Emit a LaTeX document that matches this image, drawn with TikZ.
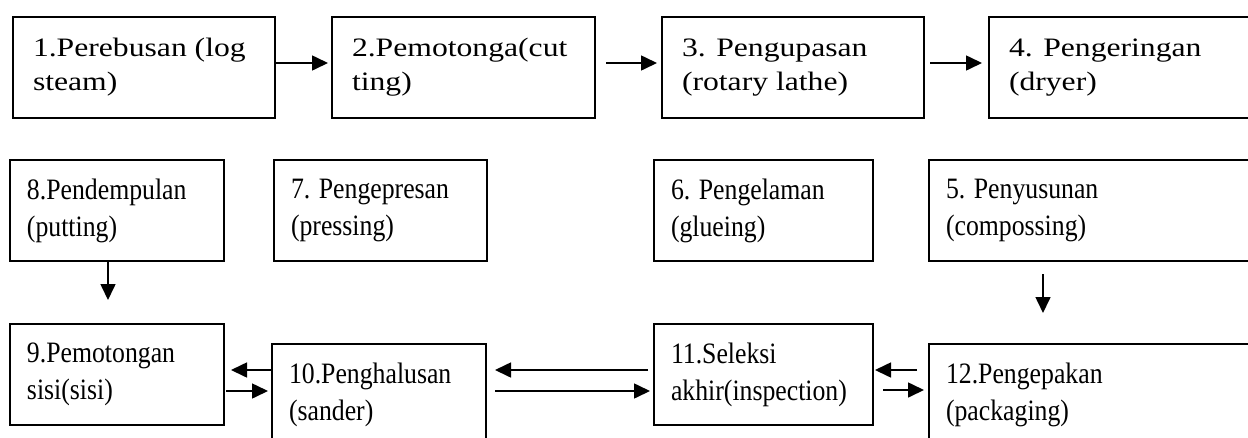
\documentclass[tikz,border=0pt]{standalone}
\usepackage{fontspec}
\setmainfont{Liberation Serif}
\newfontfamily\lebar{Liberation Serif}[FakeStretch=1.19]
\newfontfamily\sempit{Liberation Serif}[FakeStretch=0.87]
\usetikzlibrary{arrows.meta}
\tikzset{
	kotak/.style={
			draw, line width=2pt, anchor=north west, align=flush left,
			inner ysep=0pt, minimum height=101pt
		},
	prosesA/.style={
			kotak, inner xsep=20pt, text width=#1-40pt,
			font=\lebar\fontsize{26.6}{34}\selectfont
		},
	prosesB/.style={
			kotak, inner xsep=17pt, text width=#1-34pt,
			font=\sempit\fontsize{29.6}{37}\selectfont
		},
	panah/.style={
			line width=1.6pt, -{Triangle[length=16pt,width=15pt]}
		}
}

\begin{document}
\begin{tikzpicture}[x=1pt,y=-1pt]
			\useasboundingbox (0,0) rectangle (1248,437);

			\node[prosesA=262pt]	(b1) at (12,16)	{1.Perebusan (log\\steam)};
			\node[prosesA=263pt]	(b2) at (331,16)	{2.Pemotonga(cut\\ting)};
			\node[prosesA=262pt]	(b3) at (661,16)	{3. Pengupasan\\(rotary lathe)};
			\node[prosesA=262pt]	(b4) at (988,16)	{4. Pengeringan\\(dryer)};

			\node[prosesB=214pt]	(b8) at (9,159)	{8.Pendempulan\\(putting)};
			\node[prosesB=213pt]	(b7) at (273,159)	{7. Pengepresan\\(pressing)};
			\node[prosesB=219pt]	(b6) at (653,159)	{6. Pengelaman\\(glueing)};
			\node[prosesB=330pt]	(b5) at (928,159)	{5. Penyusunan\\(compossing)};

			\node[prosesB=214pt]	(b9) at (9,323)	{9.Pemotongan\\sisi(sisi)};
			\node[prosesB=214pt]	(b10) at (271,343)	{10.Penghalusan\\(sander)};
			\node[prosesB=219pt]	(b11) at (653,323)	{11.Seleksi\\akhir(inspection)};
			\node[prosesB=330pt]	(b12) at (928,343)	{12.Pengepakan\\(packaging)};

			\draw[panah, shorten >=3pt]	([yshift=4.5pt]b1.east) to ([yshift=4.5pt]b2.west);
			\draw[panah, shorten <=10pt, shorten >=4pt]	([yshift=4.5pt]b2.east) to ([yshift=4.5pt]b3.west);
			\draw[panah, shorten <=5pt, shorten >=6pt]	([yshift=4.5pt]b3.east) to ([yshift=4.5pt]b4.west);

			\draw[panah, shorten >=23pt]	([xshift=-9pt]b8.south) to ([xshift=-9pt]b9.north);
			\draw[panah, shorten <=12pt, shorten >=30pt]	([xshift=-51pt]b5.south) to ([xshift=-51pt]b12.north);

			\draw[panah, shorten >=6pt]	([yshift=24.5pt]b10.west) to ([yshift=4.5pt]b9.east);
			\draw[panah, shorten <=1pt, shorten >=3pt]	([yshift=-16.5pt]b9.east) to ([yshift=3.5pt]b10.west);
			\draw[panah, shorten <=5pt, shorten >=8pt]	([yshift=4.5pt]b11.west) to ([yshift=24.5pt]b10.east);
			\draw[panah, shorten <=8pt, shorten >=3pt]	([yshift=3.5pt]b10.east) to ([yshift=-16.5pt]b11.west);
			\draw[panah, shorten <=11pt, shorten >=1pt]	([yshift=24.5pt]b12.west) to ([yshift=4.5pt]b11.east);
			\draw[panah, shorten <=9pt, shorten >=4pt]	([yshift=-15.5pt]b11.east) to ([yshift=4.5pt]b12.west);
		\end{tikzpicture}
\end{document}
